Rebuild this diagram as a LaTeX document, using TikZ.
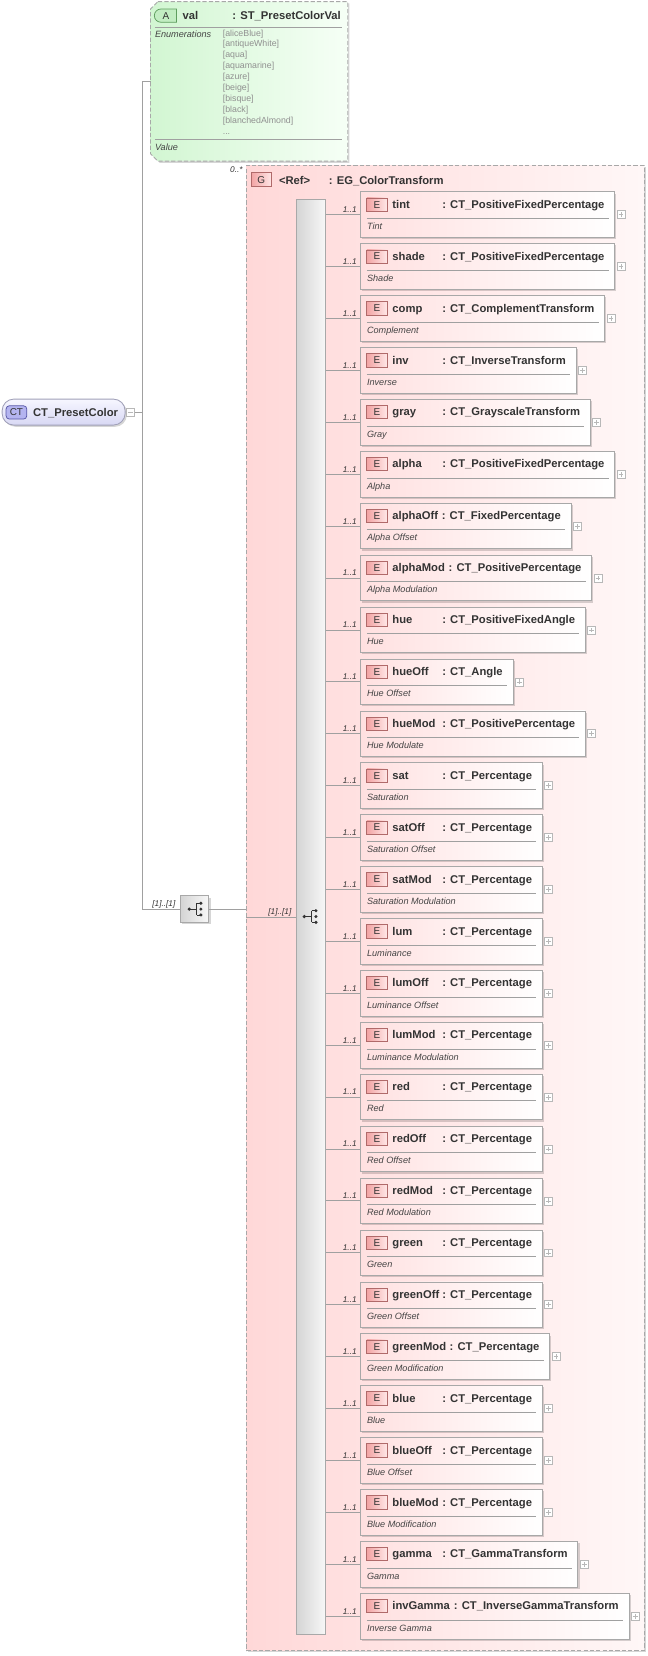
\documentclass[tikz,border=0pt]{standalone}
\usepackage{fontspec}
\setmainfont{Liberation Sans}
\usetikzlibrary{shadows,calc,shapes.misc,fit}
\pgfdeclarelayer{back}
\pgfdeclarelayer{mid}
\pgfsetlayers{back,mid,main}
\definecolor{lnc}{HTML}{A0A0A0}
\definecolor{bordc}{HTML}{A8A8A8}
\definecolor{grpL}{HTML}{FFD8D8}
\definecolor{grpR}{HTML}{FFF7F7}
\definecolor{elL}{HTML}{FFE0E0}
\definecolor{elR}{HTML}{FFFFFF}
\definecolor{ebL}{HTML}{F2A4A4}
\definecolor{ebR}{HTML}{FFE6E6}
\definecolor{ebD}{HTML}{B06A6A}
\definecolor{atL}{HTML}{D2F6D2}
\definecolor{atR}{HTML}{F6FFF6}
\definecolor{abF}{HTML}{C2EDC2}
\definecolor{abD}{HTML}{5E9E5E}
\definecolor{ctT}{HTML}{F6F6FF}
\definecolor{ctB}{HTML}{D8D8F4}
\definecolor{ctD}{HTML}{A0A0B8}
\definecolor{cbF}{HTML}{B4B4F0}
\definecolor{cbD}{HTML}{5858A8}
\definecolor{brL}{HTML}{D4D4D4}
\definecolor{brR}{HTML}{F8F8F8}
\definecolor{txt}{HTML}{333333}
\definecolor{dtxt}{HTML}{444444}
\definecolor{entxt}{HTML}{909090}
\definecolor{plc}{HTML}{B8B8B8}
\newcommand\bfnt{\fontsize{10.6}{12}\selectfont\bfseries}
\newcommand\itfnt{\fontsize{8.6}{10}\selectfont\itshape}
\newcommand\mufnt{\fontsize{7.8}{9}\selectfont\itshape}
\newcommand\enfnt{\fontsize{8.3}{10}\selectfont}
\newcommand\bdfnt{\fontsize{9.4}{10}\selectfont}
\newcommand\seqicon[2]{%
  \begin{scope}[shift={(#1,#2)}, draw=txt, fill=txt, line width=0.8pt]
    \fill (-6,0) circle (1.7);
    \draw (-6,0) -- (1,0);
    \draw (1,-5.5) -- (1,5.5);
    \draw (1,-5.5) -- (4,-5.5) (1,5.5) -- (4,5.5);
    \fill (5,-5.5) circle (1.6) (5,0) circle (1.6) (5,5.5) circle (1.6);
  \end{scope}}
\newcommand\elemrow[5]{%
  \pgfmathsetmacro\yt{181+48.96*#1}%
  \node[ebadge] (e#1) at (355.5,\yt+12) {E};%
  \node[nametxt] (n#1) at (370,\yt+15.5) {#2};%
  \node[nametxt] (t#1) at (#5,\yt+15.5) {#3};%
  \node[desctxt] (d#1) at (346,\yt+35.5) {#4};%
  \coordinate (tl#1) at (340,\yt);%
  \coordinate (yb#1) at (0,\yt+43);%
  \coordinate (ys#1) at (0,\yt+25);%
  \coordinate (br#1) at ($(t#1.east |- yb#1)+(9.5,0)$);%
  \begin{pgfonlayer}{mid}%
    \node[elbox, fit=(tl#1)(br#1)] (b#1) {};%
  \end{pgfonlayer}%
  \draw[conn] (bar.east |- b#1.west) -- (b#1.west);%
  \node[mult, anchor=base east] (m#1) at ([xshift=-3pt,yshift=2pt]b#1.west) {1..1};%
  \draw[sepl] (346,\yt+25) -- ($(b#1.east |- ys#1)+(-6,0)$);%
  \node[plusbox] (p#1) at ($(b#1.east)+(5.5,0)$) {};%
}
\begin{document}
\begin{tikzpicture}[x=1pt,y=-1pt,
  conn/.style={draw=lnc, line width=0.8pt},
  sepl/.style={draw=lnc, line width=0.7pt},
  shad/.style={drop shadow={shadow xshift=1.6pt, shadow yshift=-1.6pt, fill=black, opacity=0.16}},
  elbox/.style={draw=bordc, line width=0.8pt, left color=elL, right color=elR, inner sep=0pt, shad},
  ebadge/.style={draw=ebD, line width=0.7pt, left color=ebL, right color=ebR, minimum width=19pt, minimum height=12.5pt, inner sep=0pt, font=\bdfnt, text=txt},
  nametxt/.style={anchor=base west, inner sep=0pt, font=\bfnt, text=txt},
  desctxt/.style={anchor=base west, inner sep=0pt, font=\itfnt, text=dtxt},
  mult/.style={inner sep=0pt, font=\mufnt, text=txt},
  plusbox/.style={draw=plc, fill=white, line width=0.6pt, minimum size=7.5pt, inner sep=0pt,
    path picture={\draw[plc, line width=0.6pt] ([xshift=-2.3pt]path picture bounding box.center) -- ([xshift=2.3pt]path picture bounding box.center) ([yshift=-2.3pt]path picture bounding box.center) -- ([yshift=2.3pt]path picture bounding box.center);}},
  minusbox/.style={draw=plc, fill=white, line width=0.6pt, minimum size=8pt, inner sep=0pt,
    path picture={\draw[plc, line width=0.6pt] ([xshift=-2.5pt]path picture bounding box.center) -- ([xshift=2.5pt]path picture bounding box.center);}},
  barbox/.style={draw=bordc, line width=0.8pt, left color=brL, right color=brR, inner sep=0pt},
  dashbox/.style={draw=bordc, line width=0.8pt, dash pattern=on 4pt off 2pt},
]
\useasboundingbox (0,0) rectangle (610.3,1562);

% group box
\begin{pgfonlayer}{back}
\node[dashbox, left color=grpL, right color=grpR, shad, anchor=north west, minimum width=375pt, minimum height=1401pt, inner sep=0pt] (grp) at (232,155.6) {};
\end{pgfonlayer}
\node[mult, anchor=base east] (gm) at ([xshift=-3pt,yshift=-7.5pt]grp.north west) {0..*};
\node[ebadge, minimum height=13pt] (gb) at (246.5,169.5) {G};
\node[nametxt] (gref) at (263,174) {<Ref>};
\node[nametxt] (gtype) at (310,174) {: EG\_ColorTransform};

% attribute box
\node[inner sep=0pt, minimum width=186pt, minimum height=150.5pt, anchor=north west] (attr) at (142,1.5) {};
\draw[dashbox, left color=atL, right color=atR, shad] (149,1.5) -- (328,1.5) -- (328,152) -- (149,152) -- (142,145) -- (142,8.5) -- cycle;
\node[rounded rectangle, rounded rectangle right arc=none, draw=abD, fill=abF, line width=0.7pt, minimum width=21pt, minimum height=12.5pt, inner sep=0pt, font=\bdfnt, text=txt] (ab) at (156.5,14.75) {A};
\node[nametxt] (aval) at (172,18.5) {val};
\node[nametxt] (atype) at (219,18.5) {: ST\_PresetColorVal};
\draw[sepl] (146,25.5) -- (323,25.5);
\node[desctxt] (aenum) at (146,35) {Enumerations};
\foreach \v [count=\k from 0] in {aliceBlue,antiqueWhite,aqua,aquamarine,azure,beige,bisque,black,blanchedAlmond}
  \node[anchor=base west, inner sep=0pt, font=\enfnt, text=entxt] (ev\k) at (210,34+10.3*\k) {[\v]};
\node[anchor=base west, inner sep=0pt, font=\enfnt, text=entxt] (evdots) at (210,126.7) {.{}.{}.};
\draw[sepl] (146,131.5) -- (323,131.5);
\node[desctxt] (aval2) at (146,142) {Value};

% CT_PresetColor
\node[draw=ctD, line width=0.8pt, top color=ctT, bottom color=ctB, rounded corners=11pt, minimum width=116pt, minimum height=24.5pt, inner sep=0pt, anchor=west, shad] (ct) at (1.6,388.7) {};
\node[draw=cbD, fill=cbF, line width=0.7pt, rounded corners=3pt, minimum width=19.5pt, minimum height=12.5pt, inner sep=0pt, font=\bdfnt, text=txt] (ctb) at (15.5,389) {CT};
\node[nametxt] (ctn) at (31,392.5) {CT\_PresetColor};
\node[minusbox] (minus) at (123,388.7) {};

% sequence (outer)
\node[barbox, shad, minimum width=27pt, minimum height=25pt] (seq) at (183.5,857.5) {};
\seqicon{184.5}{857.5}
\node[mult, anchor=base east] (sm) at ([xshift=-4pt,yshift=2.5pt]seq.west) {[1]..[1]};

% main connectors
\coordinate (vline) at (134.6,0);
\draw[conn] (attr.west) -- (attr.west -| vline) |- (seq.west);
\draw[conn] (minus.east) -- (minus.east -| vline);
\draw[conn] (seq.east) -- (seq.east -| grp.west);

% inner sequence bar
\node[barbox, anchor=north west, minimum width=28pt, minimum height=1353pt] (bar) at (279,188) {};
\draw[conn] (grp.west |- bar.west) -- (bar.west);
\node[mult, anchor=base east] (bm) at ([xshift=-4pt,yshift=2.5pt]bar.west) {[1]..[1]};
\seqicon{293}{864.5}

% elements
\elemrow{0}{tint}{: CT\_PositiveFixedPercentage}{Tint}{417}
\elemrow{1}{shade}{: CT\_PositiveFixedPercentage}{Shade}{417}
\elemrow{2}{comp}{: CT\_ComplementTransform}{Complement}{417}
\elemrow{3}{inv}{: CT\_InverseTransform}{Inverse}{417}
\elemrow{4}{gray}{: CT\_GrayscaleTransform}{Gray}{417}
\elemrow{5}{alpha}{: CT\_PositiveFixedPercentage}{Alpha}{417}
\elemrow{6}{alphaOff}{: CT\_FixedPercentage}{Alpha Offset}{416.5}
\elemrow{7}{alphaMod}{: CT\_PositivePercentage}{Alpha Modulation}{423}
\elemrow{8}{hue}{: CT\_PositiveFixedAngle}{Hue}{417}
\elemrow{9}{hueOff}{: CT\_Angle}{Hue Offset}{417}
\elemrow{10}{hueMod}{: CT\_PositivePercentage}{Hue Modulate}{417}
\elemrow{11}{sat}{: CT\_Percentage}{Saturation}{417}
\elemrow{12}{satOff}{: CT\_Percentage}{Saturation Offset}{417}
\elemrow{13}{satMod}{: CT\_Percentage}{Saturation Modulation}{417}
\elemrow{14}{lum}{: CT\_Percentage}{Luminance}{417}
\elemrow{15}{lumOff}{: CT\_Percentage}{Luminance Offset}{417}
\elemrow{16}{lumMod}{: CT\_Percentage}{Luminance Modulation}{417}
\elemrow{17}{red}{: CT\_Percentage}{Red}{417}
\elemrow{18}{redOff}{: CT\_Percentage}{Red Offset}{417}
\elemrow{19}{redMod}{: CT\_Percentage}{Red Modulation}{417}
\elemrow{20}{green}{: CT\_Percentage}{Green}{417}
\elemrow{21}{greenOff}{: CT\_Percentage}{Green Offset}{417}
\elemrow{22}{greenMod}{: CT\_Percentage}{Green Modification}{424}
\elemrow{23}{blue}{: CT\_Percentage}{Blue}{417}
\elemrow{24}{blueOff}{: CT\_Percentage}{Blue Offset}{417}
\elemrow{25}{blueMod}{: CT\_Percentage}{Blue Modification}{417}
\elemrow{26}{gamma}{: CT\_GammaTransform}{Gamma}{417}
\elemrow{27}{invGamma}{: CT\_InverseGammaTransform}{Inverse Gamma}{428}
\end{tikzpicture}
\end{document}
